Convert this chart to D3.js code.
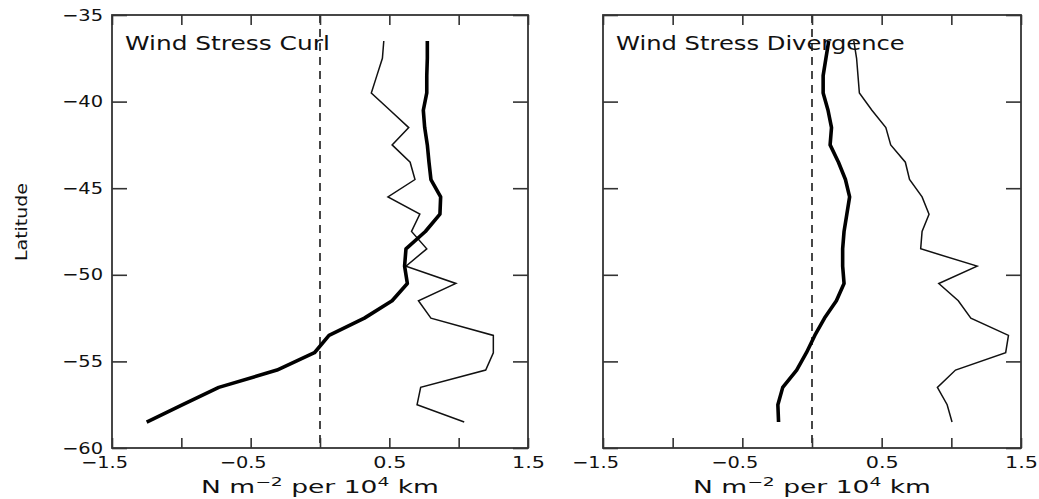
<!DOCTYPE html>
<html>
<head>
<meta charset="utf-8">
<script src="https://cdn.jsdelivr.net/npm/d3@7"></script>
<style>
  html, body { margin: 0; padding: 0; background: #fff; }
  svg { display: block; }
  text { font-family: "DejaVu Sans", sans-serif; fill: #111; }
</style>
</head>
<body>
<svg id="chart" width="1039" height="499"></svg>
<script>
// ---- data ----
const latitudes = [-36.5, -37.5, -38.5, -39.5, -40.5, -41.5, -42.5, -43.5, -44.5, -45.5, -46.5, -47.5,
                   -48.5, -49.5, -50.5, -51.5, -52.5, -53.5, -54.5, -55.5, -56.5, -57.5, -58.5];
const curlThin  = [0.46, 0.45, 0.41, 0.37, 0.505, 0.64, 0.52, 0.65, 0.685, 0.49, 0.72, 0.66,
                   0.77, 0.62, 0.98, 0.71, 0.80, 1.25, 1.25, 1.195, 0.726, 0.70, 1.04];
const curlThick = [0.774, 0.774, 0.77, 0.77, 0.745, 0.755, 0.774, 0.786, 0.80, 0.87, 0.865, 0.76,
                   0.62, 0.61, 0.63, 0.52, 0.32, 0.065, -0.04, -0.31, -0.73, -0.99, -1.25];
const divThin   = [0.30, 0.32, 0.33, 0.34, 0.43, 0.53, 0.565, 0.67, 0.70, 0.79, 0.84, 0.79,
                   0.78, 1.185, 0.91, 1.05, 1.14, 1.41, 1.39, 1.03, 0.90, 0.97, 1.005];
const divThick  = [0.12, 0.10, 0.08, 0.08, 0.115, 0.14, 0.13, 0.19, 0.24, 0.27, 0.25, 0.23,
                   0.22, 0.22, 0.23, 0.175, 0.09, 0.02, -0.04, -0.11, -0.21, -0.245, -0.24];
const panelTitles = ["Wind Stress Curl", "Wind Stress Divergence"];
const xTicks = [-1.5, -1.0, -0.5, 0, 0.5, 1.0, 1.5];
const xTickLabels = [-1.5, -0.5, 0.5, 1.5];
const yTicks = [-35, -40, -45, -50, -55, -60];
const yAxisTitle = "Latitude";

// ---- layout ----
const svg = d3.select("#chart");
const plotTop = 15, plotBottom = 448;
const panels = [
  { x0: 112, x1: 528, title: panelTitles[0], thin: curlThin, thick: curlThick, yLabels: true, titleW: 205 },
  { x0: 603, x1: 1021, title: panelTitles[1], thin: divThin, thick: divThick, yLabels: false, titleW: 289 }
];
const yScale = d3.scaleLinear().domain([-35, -60]).range([plotTop, plotBottom]);
const fmt = d3.format(".1f");

function stretch(sel, w, ax, shift) {
  sel.each(function() {
    const bw = this.getBBox().width;
    if (bw > 0) {
      const s = w / bw;
      d3.select(this).attr("transform", `translate(${ax + (shift || 0)},0) scale(${s},1) translate(${-ax},0)`);
    }
  });
}

panels.forEach(p => {
  const x = d3.scaleLinear().domain([-1.5, 1.5]).range([p.x0, p.x1]);
  const g = svg.append("g");

  // ticks
  const axB = g.append("g").attr("transform", `translate(0,${plotBottom})`)
    .call(d3.axisBottom(x).tickValues(xTicks).tickSize(-10).tickPadding(9)
      .tickFormat(d => xTickLabels.includes(d) ? fmt(d) : ""));
  const axT = g.append("g").attr("transform", `translate(0,${plotTop})`)
    .call(d3.axisTop(x).tickValues(xTicks).tickSize(-10).tickFormat(""));
  const axL = g.append("g").attr("transform", `translate(${p.x0},0)`)
    .call(d3.axisLeft(yScale).tickValues(yTicks).tickSize(-15).tickPadding(9)
      .tickFormat(d => p.yLabels ? d3.format("d")(d) : ""));
  const axR = g.append("g").attr("transform", `translate(${p.x1},0)`)
    .call(d3.axisRight(yScale).tickValues(yTicks).tickSize(-15).tickFormat(""));
  [axB, axT, axL, axR].forEach(a => {
    a.select(".domain").remove();
    a.selectAll(".tick line").attr("stroke", "#333").attr("stroke-width", 1.6);
    a.selectAll("text").attr("font-size", 16).attr("font-family", "DejaVu Sans, sans-serif").attr("fill", "#111");
  });
  axB.selectAll(".tick text").each(function(d) {
    if (!xTickLabels.includes(d)) return;
    if (d < 0) stretch(d3.select(this), 47, 0, -8);
    else stretch(d3.select(this), 33, 0, 0);
  });
  axL.selectAll(".tick text").each(function(d) {
    if (!p.yLabels) return;
    stretch(d3.select(this), 41, -9, 0);
  });

  // frame
  g.append("rect").attr("x", p.x0).attr("y", plotTop)
    .attr("width", p.x1 - p.x0).attr("height", plotBottom - plotTop)
    .attr("fill", "none").attr("stroke", "#333").attr("stroke-width", 1.8);

  // zero dashed line
  g.append("line").attr("x1", x(0)).attr("x2", x(0)).attr("y1", plotTop).attr("y2", plotBottom)
    .attr("stroke", "#333").attr("stroke-width", 1.8).attr("stroke-dasharray", "8,6");

  const line = d3.line().x(d => x(d[0])).y(d => yScale(d[1]));
  g.append("path").datum(p.thin.map((v, i) => [v, latitudes[i]]))
    .attr("d", line).attr("fill", "none").attr("stroke", "#111")
    .attr("stroke-width", 1.5).attr("stroke-linejoin", "miter");
  g.append("path").datum(p.thick.map((v, i) => [v, latitudes[i]]))
    .attr("d", line).attr("fill", "none").attr("stroke", "#000")
    .attr("stroke-width", 3.6).attr("stroke-linejoin", "round");

  // panel title
  const t = g.append("text").attr("x", p.x0 + 13).attr("y", 50)
    .attr("font-size", 19).text(p.title);
  stretch(t, p.titleW, p.x0 + 13, 0);

  // x axis title
  const cx = (p.x0 + p.x1) / 2;
  const xt = g.append("text").attr("x", cx).attr("y", 493).attr("text-anchor", "middle").attr("font-size", 17);
  xt.append("tspan").text("N m");
  xt.append("tspan").attr("font-size", 12).attr("dy", -7).text("−2");
  xt.append("tspan").attr("dy", 7).text(" per 10");
  xt.append("tspan").attr("font-size", 12).attr("dy", -7).text("4");
  xt.append("tspan").attr("dy", 7).text(" km");
  stretch(xt, 238, cx, 0);
});

// y axis title
svg.append("text").attr("transform", "translate(27,222) rotate(-90)")
  .attr("text-anchor", "middle").attr("font-size", 16).attr("font-family", "Liberation Sans, Arial, sans-serif")
  .attr("textLength", 78).attr("lengthAdjust", "spacingAndGlyphs").text(yAxisTitle);
</script>
</body>
</html>
